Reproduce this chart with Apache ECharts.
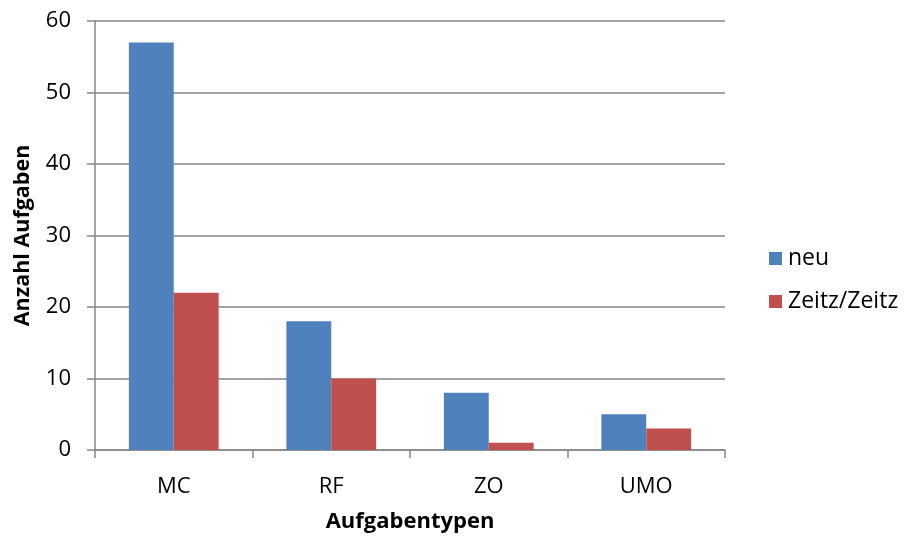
<!DOCTYPE html>
<html>
<head>
<meta charset="utf-8">
<script src="https://cdn.jsdelivr.net/npm/echarts@6/dist/echarts.min.js"></script>
<style>
  html, body { margin: 0; padding: 0; background: #fff; }
  #chart { width: 906px; height: 537px; }
</style>
</head>
<body>
<div id="chart"></div>
<script>
// Task types and counts per source
const categories = ['MC', 'RF', 'ZO', 'UMO'];
const seriesNames = ['neu', 'Zeitz/Zeitz'];
const neuValues = [57, 18, 8, 5];
const zeitzValues = [22, 10, 1, 3];
const yTicks = [0, 10, 20, 30, 40, 50, 60];

const font = '"Open Sans", "DejaVu Sans", sans-serif';
const axisGray = '#868686';

const chart = echarts.init(document.getElementById('chart'));
chart.setOption({
  animation: false,
  textStyle: { fontFamily: font },
  grid: { left: 95, right: 181, top: 21, bottom: 87, containLabel: false, outerBoundsMode: 'none' },
  legend: {
    orient: 'vertical',
    left: 764,
    top: 242,
    itemWidth: 13,
    itemHeight: 13,
    itemGap: 20,
    icon: 'rect',
    textStyle: { fontSize: 23, color: '#000', fontFamily: font, padding: [0, 0, 0, 1] },
    data: seriesNames
  },
  xAxis: {
    type: 'category',
    data: categories,
    name: 'Aufgabentypen',
    nameLocation: 'middle',
    nameGap: 61,
    nameTextStyle: { fontSize: 22, fontWeight: 'bold', color: '#000' },
    axisLine: { lineStyle: { color: axisGray, width: 1.5 } },
    axisTick: { show: true, length: 8, lineStyle: { color: axisGray, width: 1.5 } },
    axisLabel: { fontSize: 22, color: '#000', margin: 26 }
  },
  yAxis: {
    type: 'value',
    min: yTicks[0],
    max: yTicks[yTicks.length - 1],
    interval: 10,
    name: 'Anzahl Aufgaben',
    nameLocation: 'middle',
    nameGap: 61,
    nameTextStyle: { fontSize: 21.5, fontWeight: 'bold', color: '#000' },
    axisLine: { show: true, lineStyle: { color: axisGray, width: 1.5 } },
    axisTick: { show: true, length: 8, lineStyle: { color: axisGray, width: 1.5 } },
    axisLabel: { fontSize: 22, color: '#000', margin: 24 },
    splitLine: { lineStyle: { color: axisGray, width: 1.5 } }
  },
  series: [
    {
      name: seriesNames[0],
      type: 'bar',
      data: neuValues,
      barGap: '0%',
      barCategoryGap: '43%',
      itemStyle: { color: '#4F81BD' }
    },
    {
      name: seriesNames[1],
      type: 'bar',
      data: zeitzValues,
      itemStyle: { color: '#C0504D' }
    }
  ]
});
</script>
</body>
</html>
